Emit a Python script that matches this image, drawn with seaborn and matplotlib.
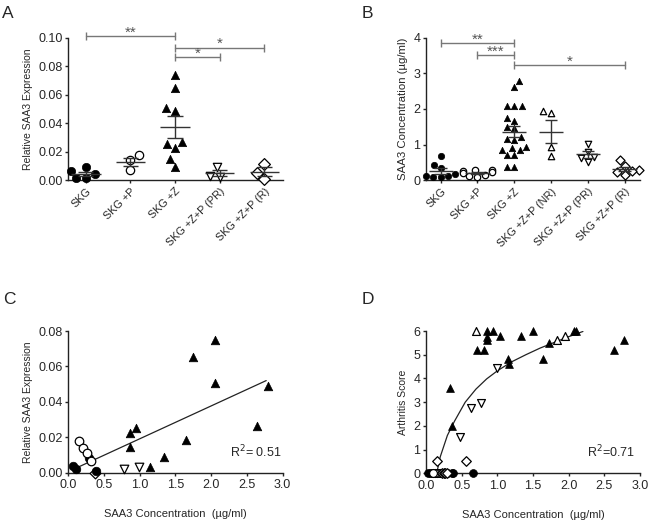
import numpy as np
import pandas as pd
import matplotlib
matplotlib.use("Agg")
import matplotlib.pyplot as plt
import seaborn as sns

# ---------------- data ----------------
catsA = ["SKG", "SKG +P", "SKG +Z", "SKG +Z+P (PR)", "SKG +Z+P (R)"]
A_skg = [0.0088, 0.0065, 0.0039, 0.0014, 0.0014]
A_skgP = [0.0174, 0.0139, 0.0070]
A_skgZ = [0.0738, 0.0647, 0.0503, 0.0485, 0.0269, 0.0253, 0.0225, 0.0148, 0.0093]
A_PR = [0.0088, 0.0030, 0.0023]
A_R = [0.0116, 0.0051, 0.0005]
sigA = [(0, 2, 0.101, "**"), (2, 4, 0.093, "*"), (2, 3, 0.0865, "*")]

catsB = ["SKG", "SKG +P", "SKG +Z", "SKG +Z+P (NR)", "SKG +Z+P (PR)", "SKG +Z+P (R)"]
B_skg = [0.68, 0.42, 0.35, 0.18, 0.12, 0.12, 0.10, 0.10]
B_skgP = [0.30, 0.28, 0.25, 0.22, 0.20, 0.15, 0.12, 0.10]
B_skgZ = [2.79, 2.63, 2.08, 2.07, 2.07, 1.74, 1.66, 1.50, 1.46, 1.20,
          1.17, 1.13, 0.92, 0.90, 0.85, 0.85, 0.71, 0.71, 0.38, 0.36]
B_NR = [1.95, 1.88, 0.93, 0.69]
B_PR = [1.02, 0.80, 0.66, 0.62, 0.52]
B_R = [0.57, 0.40, 0.30, 0.25, 0.22, 0.15]
sigB = [(0, 2, 3.84, "**"), (1, 2, 3.51, "***"), (2, 5, 3.23, "*")]

C_tri_x = [2.05, 1.74, 2.05, 2.79, 2.64, 1.65, 0.95, 0.87, 0.86, 1.34, 1.15]
C_tri_y = [0.0749, 0.0655, 0.0506, 0.0489, 0.0265, 0.0184, 0.0254, 0.0222, 0.0147, 0.0090, 0.0034]
C_dtri_x = [0.775, 0.985]
C_dtri_y = [0.0019, 0.0034]
C_ocirc_x = [0.154, 0.21, 0.257, 0.313]
C_ocirc_y = [0.0177, 0.0137, 0.0113, 0.0068]
C_fcirc_x = [0.061, 0.107, 0.294, 0.387]
C_fcirc_y = [0.0038, 0.0019, 0.0085, 0.0008]
C_dia_x = [0.373]
C_dia_y = [0.0]
C_fit_x = [0.12, 2.77]
C_fit_y = [0.0028, 0.052]
C_r2 = "R$^2$= 0.51"

D_tri_x = [0.86, 0.94, 1.50, 2.07, 2.10, 0.86, 1.04, 1.33, 0.86, 0.71,
           0.82, 2.64, 2.78, 1.15, 1.64, 1.16, 1.73, 0.33, 0.37]
D_tri_y = [6.0, 6.0, 6.0, 6.0, 6.0, 5.75, 5.8, 5.8, 5.6, 5.2,
           5.2, 5.2, 5.6, 4.8, 4.8, 4.6, 5.5, 3.6, 2.0]
D_otri_x = [0.70, 1.84, 1.95]
D_otri_y = [6.0, 5.6, 5.8]
D_dtri_x = [0.99, 0.63, 0.77, 0.48]
D_dtri_y = [4.42, 2.74, 2.95, 1.52]
D_dia_x = [0.15, 0.56, 0.22, 0.25, 0.27, 0.30]
D_dia_y = [0.5, 0.5, 0.0, 0.0, 0.0, 0.0]
D_ocirc_x = [0.30, 0.28, 0.25, 0.22, 0.20, 0.15, 0.12, 0.10]
D_ocirc_y = [0, 0, 0, 0, 0, 0, 0, 0]
D_fcirc_x = [0.66, 0.38, 0.36, 0.18, 0.12, 0.08, 0.05, 0.03]
D_fcirc_y = [0, 0, 0, 0, 0, 0, 0, 0]
D_curve_x = [0.15, 0.2, 0.3, 0.4, 0.55, 0.7, 0.85, 1.0, 1.2, 1.4, 1.6, 1.8, 2.0, 2.2]
D_curve_y = [0.0, 0.7, 1.6, 2.2, 3.0, 3.55, 3.98, 4.32, 4.7, 5.0, 5.28, 5.52, 5.76, 5.98]
D_r2 = "R$^2$=0.71"

# ---------------- style ----------------
sns.set_theme(style="ticks")
plt.rcParams["font.family"] = ["Liberation Sans", "DejaVu Sans"]
plt.rcParams["axes.linewidth"] = 1.0
plt.rcParams["xtick.major.size"] = 2.5
plt.rcParams["ytick.major.size"] = 2.5
plt.rcParams["xtick.major.pad"] = 2.0
plt.rcParams["ytick.major.pad"] = 1.5
plt.rcParams["xtick.major.width"] = 1.0
plt.rcParams["ytick.major.width"] = 1.0
plt.rcParams["axes.edgecolor"] = "#222222"
TICK_FS = 9
CAT_FS = 7.8

fig = plt.figure(figsize=(6.49, 5.23), dpi=100)
axA = fig.add_axes([0.1048, 0.6558, 0.3313, 0.2721])
axB = fig.add_axes([0.6564, 0.6553, 0.3297, 0.2727])
axC = fig.add_axes([0.1052, 0.0962, 0.3303, 0.2709])
axD = fig.add_axes([0.6564, 0.0950, 0.3297, 0.2721])

OPEN = dict(color="white", edgecolor="black", linewidth=0.9)
FILL = dict(color="black", edgecolor="black", linewidth=0.5)


def dot_panel(ax, cats, groups, size, sig, ylim, yticks, yfmt, ylabel, ylfs):
    for cat, (vals, marker, style) in zip(cats, groups):
        df = pd.DataFrame({"g": [cat] * len(vals), "v": vals})
        sns.swarmplot(data=df, x="g", y="v", order=cats, ax=ax, marker=marker,
                      size=size, zorder=3, **style)
    for i, (vals, marker, style) in enumerate(groups):
        v = np.asarray(vals)
        m = v.mean()
        se = v.std(ddof=1) / np.sqrt(len(v))
        ax.hlines(m, i - 0.33, i + 0.33, color="#333333", lw=1.0, zorder=4)
        ax.vlines(i, m - se, m + se, color="#333333", lw=1.0, zorder=4)
        ax.hlines([m - se, m + se], i - 0.17, i + 0.17, color="#333333", lw=1.0, zorder=4)
    for x1, x2, y, s in sig:
        ax.plot([x1, x2], [y, y], color="#777777", lw=1.0, marker="|",
                markersize=6, markeredgewidth=1.0, clip_on=False)
        ax.annotate(s, ((x1 + x2) / 2, y), xytext=(0, -2.5), textcoords="offset points",
                    ha="center", va="bottom", fontsize=11, color="#555555",
                    annotation_clip=False)
    for coll in ax.collections:
        coll.set_clip_on(False)
    ax.set_xlim(-0.4, len(cats) - 1 + 0.42)
    ax.set_ylim(*ylim)
    ax.set_yticks(yticks)
    ax.set_yticklabels([yfmt.format(t) for t in yticks], fontsize=TICK_FS)
    ax.set_xticks(range(len(cats)))
    ax.set_xticklabels(cats, rotation=45, ha="right", rotation_mode="anchor",
                       fontsize=CAT_FS)
    ax.set_xlabel("")
    ax.set_ylabel(ylabel, fontsize=ylfs)
    sns.despine(ax=ax)


dot_panel(axA, catsA,
          [(A_skg, "o", FILL), (A_skgP, "o", OPEN), (A_skgZ, "^", FILL),
           (A_PR, "v", OPEN), (A_R, "D", OPEN)],
          6, sigA, (0, 0.10), [0, 0.02, 0.04, 0.06, 0.08, 0.10], "{:.2f}",
          "Relative SAA3 Expression", 7.5)
dot_panel(axB, catsB,
          [(B_skg, "o", FILL), (B_skgP, "o", OPEN), (B_skgZ, "^", FILL),
           (B_NR, "^", OPEN), (B_PR, "v", OPEN), (B_R, "D", OPEN)],
          4.6, sigB, (0, 4), [0, 1, 2, 3, 4], "{:.0f}",
          "SAA3 Concentration (\u00b5g/ml)", 8.2)


def scat(ax, x, y, marker, style, s):
    sns.scatterplot(x=x, y=y, ax=ax, marker=marker, s=s, zorder=3, **style)


# Panel C
axC.plot(C_fit_x, C_fit_y, color="#222222", lw=0.9, zorder=2)
scat(axC, C_dia_x, C_dia_y, "D", OPEN, 30)
scat(axC, C_fcirc_x, C_fcirc_y, "o", FILL, 38)
scat(axC, C_ocirc_x, C_ocirc_y, "o", OPEN, 38)
scat(axC, C_dtri_x, C_dtri_y, "v", OPEN, 38)
scat(axC, C_tri_x, C_tri_y, "^", FILL, 38)
axC.text(2.98, 0.0068, C_r2, ha="right", va="bottom", fontsize=9)
axC.set_xlim(0, 3)
axC.set_ylim(0, 0.08)
axC.set_yticks([0, 0.02, 0.04, 0.06, 0.08])
axC.set_yticklabels(["0.00", "0.02", "0.04", "0.06", "0.08"], fontsize=TICK_FS)
axC.set_xticks([0, 0.5, 1, 1.5, 2, 2.5, 3])
axC.set_xticklabels(["0.0", "0.5", "1.0", "1.5", "2.0", "2.5", "3.0"], fontsize=TICK_FS)
axC.set_ylabel("Relative SAA3 Expression", fontsize=7.5)
axC.set_xlabel("SAA3 Concentration  (\u00b5g/ml)", fontsize=8.0, labelpad=13)
sns.despine(ax=axC)

# Panel D
axD.plot(D_curve_x, D_curve_y, color="#222222", lw=0.9, zorder=2)
scat(axD, D_fcirc_x, D_fcirc_y, "o", FILL, 32)
scat(axD, D_ocirc_x, D_ocirc_y, "o", OPEN, 32)
scat(axD, D_dia_x, D_dia_y, "D", OPEN, 24)
scat(axD, D_dtri_x, D_dtri_y, "v", OPEN, 32)
scat(axD, D_otri_x, D_otri_y, "^", OPEN, 32)
scat(axD, D_tri_x, D_tri_y, "^", FILL, 32)
axD.text(2.93, 0.55, D_r2, ha="right", va="bottom", fontsize=9)
axD.set_xlim(0, 3)
axD.set_ylim(0, 6)
axD.set_yticks(range(7))
axD.set_yticklabels([str(i) for i in range(7)], fontsize=TICK_FS)
axD.set_xticks([0, 0.5, 1, 1.5, 2, 2.5, 3])
axD.set_xticklabels(["0.0", "0.5", "1.0", "1.5", "2.0", "2.5", "3.0"], fontsize=TICK_FS)
axD.set_ylabel("Arthritis Score", fontsize=7.5)
axD.set_xlabel("SAA3 Concentration  (\u00b5g/ml)", fontsize=8.0, labelpad=13)
sns.despine(ax=axD)

for ax in (axC, axD):
    for coll in ax.collections:
        coll.set_clip_on(False)
    if ax.get_legend():
        ax.get_legend().remove()

for lbl, x, y in [("A", 7.5, 13), ("B", 367.5, 13), ("C", 9, 299), ("D", 367.5, 299)]:
    fig.text(x / 649, 1 - y / 523, lbl, fontsize=12.5, ha="center", va="center")

fig.savefig("out.png", dpi=100)
